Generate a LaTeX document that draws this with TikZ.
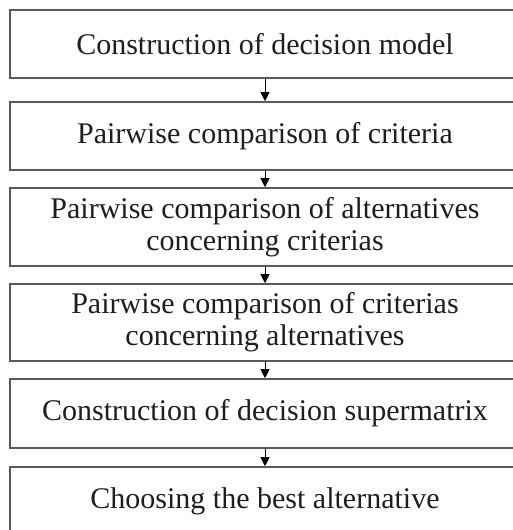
\documentclass[tikz,border=0pt]{standalone}
\usepackage{fontspec}
\setmainfont{Liberation Serif}
\usetikzlibrary{arrows.meta}
\definecolor{boxline}{HTML}{5A5A5A}
\definecolor{steptext}{HTML}{1E1E1E}
\tikzset{
  stepnode/.style={draw=boxline, line width=1.6pt, fill=white, align=center,
    text=steptext, minimum width=510pt, inner sep=0pt, font=\fontsize{30}{32}\selectfont},
  flowarrow/.style={-{Triangle[width=9pt,length=9pt]}, line width=1pt, black}
}
\begin{document}
\begin{tikzpicture}[x=1pt, y=-1pt]
        \useasboundingbox (0,0) rectangle (512,530);

        \node [stepnode, minimum height=68pt] (model) at (265, 44) {Construction of decision model};
        \node [stepnode, minimum height=68pt] (crit) at (265, 136) {Pairwise comparison of criteria};
        \node [stepnode, minimum height=78pt] (altcrit) at (265, 227) {Pairwise comparison of alternatives\\concerning criterias};
        \node [stepnode, minimum height=77pt] (critalt) at (265, 322.5) {Pairwise comparison of criterias\\concerning alternatives};
        \node [stepnode, minimum height=69pt] (supermat) at (265, 413.5) {Construction of decision supermatrix};
        \node [stepnode, minimum height=68pt] (best) at (265, 501) {Choosing the best alternative};

        \draw [flowarrow] (model) -- (crit);
        \draw [flowarrow] (crit) -- (altcrit);
        \draw [flowarrow] (altcrit) -- (critalt);
        \draw [flowarrow] (critalt) -- (supermat);
        \draw [flowarrow] (supermat) -- (best);
    \end{tikzpicture}
\end{document}
